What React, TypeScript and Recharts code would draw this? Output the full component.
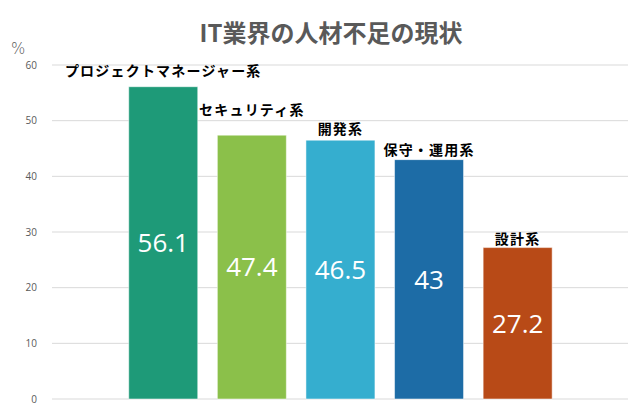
import { BarChart, Bar, XAxis, YAxis, CartesianGrid, LabelList, Cell } from 'recharts';

const categories = ['プロジェクトマネージャー系', 'セキュリティ系', '開発系', '保守・運用系', '設計系'];
const shortage = [56.1, 47.4, 46.5, 43, 27.2];
const yTicks = [0, 10, 20, 30, 40, 50, 60];

const barColors = ['#1e9a78', '#8bc04a', '#35aecf', '#1d6ca6', '#b84a17'];
// how far each category name sits above its bar (hand-placed in the original)
const nameLift = [17, 26, 12, 11, 10];

const data = categories.map((name, i) => ({ name, value: shortage[i] }));

const jpFont = '"Noto Sans CJK JP", "Noto Sans", sans-serif';

const NameLabel = (props: any) => {
  const { x, y, width, index } = props;
  return (
    <text
      x={x + width / 2}
      y={y - nameLift[index]}
      textAnchor="middle"
      dominantBaseline="central"
      fontFamily={jpFont}
      fontWeight={700}
      fontSize={14}
      letterSpacing={1.2}
      fill="#000"
    >
      {categories[index]}
    </text>
  );
};

export default function App() {
  return (
    <div style={{ position: 'absolute', left: 0, top: 0, width: 640, height: 411, background: '#fff' }}>
      <div
        style={{
          position: 'absolute',
          left: 0,
          width: 640,
          top: 16,
          textAlign: 'center',
          paddingLeft: 22,
          boxSizing: 'border-box',
          fontFamily: jpFont,
          fontWeight: 700,
          fontSize: 24,
          lineHeight: '32px',
          color: '#595959',
        }}
      >
        IT業界の人材不足の現状
      </div>
      <div
        style={{
          position: 'absolute',
          left: 11,
          top: 39,
          fontFamily: '"DejaVu Sans", sans-serif',
          fontWeight: 300,
          fontSize: 15,
          lineHeight: '20px',
          color: '#595959',
        }}
      >
        %
      </div>
      <BarChart
        width={640}
        height={411}
        data={data}
        margin={{ top: 65, right: 12, bottom: 12, left: 12 }}
        barCategoryGap="11%"
      >
        <CartesianGrid vertical={false} stroke="#d9d9d9" />
        <XAxis dataKey="name" hide padding={{ left: 67, right: 66 }} />
        <YAxis
          width={40}
          domain={[0, 60]}
          ticks={yTicks}
          axisLine={false}
          tickLine={false}
          tickMargin={9}
          tick={{ fill: '#595959', fontSize: 10, fontFamily: '"Open Sans", sans-serif' }}
        />
        <Bar dataKey="value" isAnimationActive={false} stroke="#ffffff" strokeOpacity={0.5} strokeWidth={1}>
          {data.map((_, i) => (
            <Cell key={i} fill={barColors[i]} />
          ))}
          <LabelList dataKey="value" content={<NameLabel />} />
          <LabelList
            dataKey="value"
            position="center"
            fill="#ffffff"
            fontSize={26}
            fontFamily='"Open Sans", sans-serif'
          />
        </Bar>
      </BarChart>
    </div>
  );
}
